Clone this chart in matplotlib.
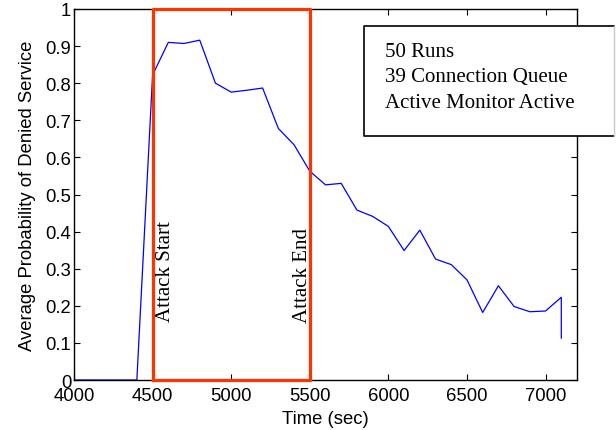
import numpy as np
import matplotlib.pyplot as plt

# averaged over 50 runs, sampled every 100 s
time_s = [4000, 4100, 4200, 4300, 4400, 4500, 4600, 4700, 4800, 4900,
          5000, 5100, 5200, 5300, 5400, 5500, 5600, 5700, 5800, 5900,
          6000, 6100, 6200, 6300, 6400, 6500, 6600, 6700, 6800, 6900,
          7000, 7100, 7100]
p_denied = [0, 0, 0, 0, 0, 0.822, 0.910, 0.907, 0.916, 0.800,
            0.776, 0.781, 0.787, 0.678, 0.634, 0.563, 0.526, 0.530, 0.458, 0.441,
            0.414, 0.349, 0.404, 0.326, 0.311, 0.270, 0.182, 0.254, 0.198, 0.184,
            0.186, 0.223, 0.113]

attack_start = 4500
attack_end = 5500

note_lines = ["50 Runs", "39 Connection Queue", "Active Monitor Active"]

sans = "Liberation Sans"
serif = "Liberation Serif"


def main():
    fig = plt.figure(figsize=(6.16, 4.31), dpi=100)
    ax = fig.add_axes([0.1201, 0.116, 0.8166, 0.8608])

    ax.plot(time_s, p_denied, color="#0000ff", lw=0.9)

    # attack window
    ax.plot([attack_start, attack_start, attack_end, attack_end, attack_start],
            [0, 1, 1, 0, 0], color="#ff3300", lw=2.3, clip_on=False, zorder=3)

    ax.text(attack_start + 22, 0.158, "Attack Start", rotation=90,
            family=serif, fontsize=15, ha="left", va="bottom")
    ax.text(attack_end + 12, 0.156, "Attack End", rotation=90,
            family=serif, fontsize=15, ha="right", va="bottom")

    # note box, sticks out past the right spine
    x0, y0, x1, y1 = 0.5765, 0.6577, 1.0736, 0.9542
    box = plt.Rectangle((x0, y0), x1 - x0, y1 - y0, transform=ax.transAxes,
                        fc="white", ec="none", clip_on=False, zorder=4)
    ax.add_patch(box)
    ax.plot([x1, x0, x0, x1], [y0, y0, y1, y1], color="black", lw=1.2,
            transform=ax.transAxes, clip_on=False, zorder=5)
    ax.plot([x1, x1], [y0, y1], color="#c8c8c8", lw=1.0,
            transform=ax.transAxes, clip_on=False, zorder=5)
    for i, line in enumerate(note_lines):
        ax.text(0.6183, 0.874 - i * 0.069, line, transform=ax.transAxes,
                family=serif, fontsize=15, ha="left", va="baseline", zorder=6)

    ax.set_xlim(4000, 7200)
    ax.set_ylim(0, 1)
    ax.set_xticks(np.arange(4000, 7001, 500))
    ax.set_yticks(np.arange(0, 1.01, 0.1))
    ax.set_yticklabels(["0", "0.1", "0.2", "0.3", "0.4", "0.5", "0.6",
                        "0.7", "0.8", "0.9", "1"])
    ax.tick_params(direction="in", top=True, right=True, length=4,
                   labelsize=13.3)
    ax.tick_params(axis="x", pad=5)
    ax.tick_params(axis="y", pad=2)
    for lab in ax.get_xticklabels() + ax.get_yticklabels():
        lab.set_family(sans)
    for sp in ax.spines.values():
        sp.set_linewidth(1.0)

    ax.set_xlabel("Time (sec)", family=sans, fontsize=13.3, labelpad=4)
    ax.set_ylabel("Average Probability of Denied Service", family=sans,
                  fontsize=13.3, labelpad=7)

    fig.savefig("out.png", dpi=100)


if __name__ == "__main__":
    main()
